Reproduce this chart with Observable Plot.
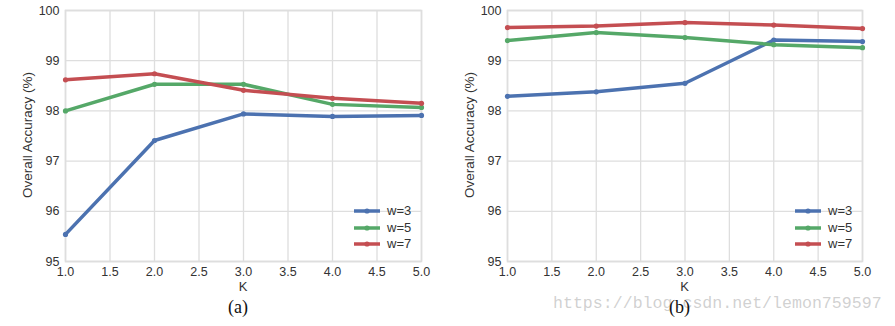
<!DOCTYPE html>
<html><head><meta charset="utf-8">
<script src="https://cdn.jsdelivr.net/npm/d3@7"></script>
<script src="https://cdn.jsdelivr.net/npm/@observablehq/plot@0.6"></script>
<style>
body{margin:0;background:#fff;}
#wrap{position:relative;width:895px;height:326px;overflow:hidden;background:#fff;font-family:"Liberation Sans",Arial,sans-serif;}
.panel{position:absolute;top:0;}
.legend{position:absolute;font-size:13px;color:#333;}
.legend .row{position:absolute;left:0;height:16px;white-space:nowrap;}
.legend svg{position:absolute;left:0;top:0;}
.legend span{position:absolute;left:34px;top:0;line-height:16px;}
.caption{position:absolute;font-family:"Liberation Serif","Times New Roman",serif;font-size:18px;color:#111;transform:translateX(-50%);}
.xlab{position:absolute;font-size:13px;color:#333;transform:translateX(-50%);}
.wm{position:absolute;font-family:"Liberation Mono","DejaVu Sans Mono",monospace;font-size:16.6px;color:rgba(170,170,170,0.55);white-space:nowrap;}
</style></head><body><div id="wrap"></div>
<script>
const K = [1, 2, 3, 4, 5];
const seriesNames = ["w=3", "w=5", "w=7"];
const seriesColors = ["#4c72b0", "#55a868", "#c44e52"];
// panel (a)
const accA_w3 = [95.54, 97.41, 97.94, 97.89, 97.91];
const accA_w5 = [98.00, 98.53, 98.53, 98.13, 98.07];
const accA_w7 = [98.62, 98.74, 98.41, 98.25, 98.15];
// panel (b)
const accB_w3 = [98.29, 98.38, 98.55, 99.41, 99.38];
const accB_w5 = [99.40, 99.56, 99.46, 99.32, 99.26];
const accB_w7 = [99.66, 99.69, 99.76, 99.71, 99.64];
const xTicks = [1.0, 1.5, 2.0, 2.5, 3.0, 3.5, 4.0, 4.5, 5.0];
const yTicks = [95, 96, 97, 98, 99, 100];
const yLabel = "Overall Accuracy (%)";
const xLabel = "K";
const captions = ["(a)", "(b)"];
const watermark = "https://blog.csdn.net/lemon759597";

function table(arrs) {
  const rows = [];
  arrs.forEach((vals, i) => vals.forEach((v, j) => rows.push({K: K[j], acc: v, series: seriesNames[i]})));
  return rows;
}

const wrap = document.getElementById("wrap");
const grid = "#dedede";

const wm = document.createElement("div");
wm.className = "wm";
wm.style.left = "553px"; wm.style.top = "294px";
wm.textContent = watermark;

function panel(rows, left, width, mL, mR, caption) {
  const div = document.createElement("div");
  div.className = "panel";
  div.style.left = left + "px";
  div.style.width = width + "px";
  div.style.height = "326px";
  const chart = Plot.plot({
    width, height: 326,
    marginLeft: mL, marginRight: mR, marginTop: 10, marginBottom: 65,
    style: {fontFamily: '"Liberation Sans", Arial, sans-serif', fontSize: "12.5px", color: "#333", background: "transparent"},
    x: {domain: [1, 5], label: null},
    y: {domain: [95, 100], label: null},
    color: {domain: seriesNames, range: seriesColors},
    marks: [
      Plot.gridX(xTicks, {stroke: grid, strokeOpacity: 1, strokeWidth: 1.3}),
      Plot.gridY(yTicks, {stroke: grid, strokeOpacity: 1, strokeWidth: 1.3}),
      Plot.frame({stroke: grid, strokeWidth: 1.6}),
      Plot.axisX(xTicks, {tickSize: 0, tickPadding: 6, tickFormat: d3.format(".1f"), fill: "#333", label: null}),
      Plot.axisY(yTicks, {tickSize: 0, tickPadding: 6, tickFormat: d3.format("d"), fill: "#333", label: null}),
      Plot.line(rows, {x: "K", y: "acc", stroke: "series", strokeWidth: 3.5, strokeLinejoin: "round"}),
      Plot.dot(rows, {x: "K", y: "acc", fill: "series", r: 2.6})
    ]
  });
  div.appendChild(chart);
  const svg = d3.select(chart);
  svg.append("text")
    .attr("transform", `translate(${mL - 37},${10 + 125})rotate(-90)`)
    .attr("text-anchor", "middle")
    .attr("dominant-baseline", "middle")
    .attr("fill", "#333")
    .style("font-size", "13.5px")
    .text(yLabel);
  const plotRight = width - mR;
  const cx = (mL + plotRight) / 2;
  const xl = document.createElement("div");
  xl.className = "xlab";
  xl.style.left = cx + "px"; xl.style.top = "279px";
  xl.textContent = xLabel;
  div.appendChild(xl);
  const cap = document.createElement("div");
  cap.className = "caption";
  cap.style.left = (cx - 5) + "px"; cap.style.top = "297px";
  cap.textContent = caption;
  div.appendChild(cap);
  const lg = document.createElement("div");
  lg.className = "legend";
  lg.style.left = (plotRight - 68) + "px";
  lg.style.top = "203px";
  seriesNames.forEach((name, i) => {
    const r = document.createElement("div");
    r.className = "row";
    r.style.top = (i * 16.5) + "px";
    r.innerHTML = `<svg width="30" height="16"><line x1="1" x2="27" y1="8" y2="8" stroke="${seriesColors[i]}" stroke-width="3.5"/><circle cx="14" cy="8" r="2.6" fill="${seriesColors[i]}"/></svg><span>${name}</span>`;
    lg.appendChild(r);
  });
  div.appendChild(lg);
  wrap.appendChild(div);
}

panel(table([accA_w3, accA_w5, accA_w7]), 0, 440, 65, 19, captions[0]);
wrap.appendChild(wm);
panel(table([accB_w3, accB_w5, accB_w7]), 440, 455, 67, 33, captions[1]);
</script>
</body></html>
